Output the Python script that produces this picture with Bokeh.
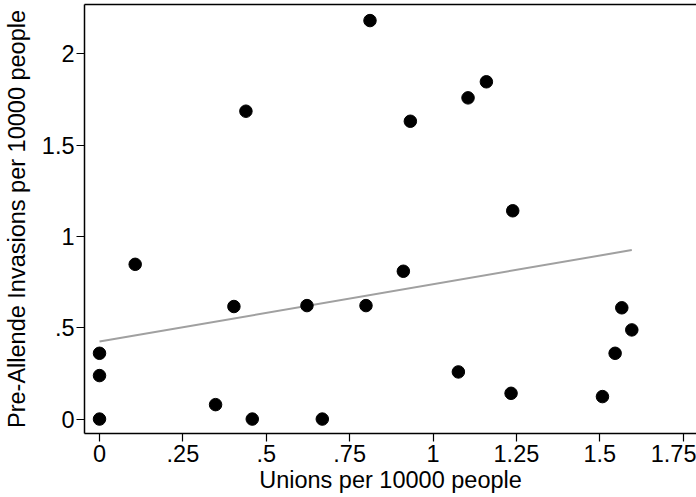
from bokeh.plotting import figure
from bokeh.models import Range1d, FixedTicker, LinearAxis
from bokeh.embed import file_html
from bokeh.resources import INLINE

# Data
unions = [0.0, 0.0, 0.0, 0.107, 0.348, 0.403, 0.439, 0.458, 0.622, 0.668,
          0.799, 0.811, 0.911, 0.932, 1.076, 1.105, 1.160, 1.234, 1.239,
          1.508, 1.546, 1.566, 1.596]
invasions = [0.0, 0.238, 0.360, 0.847, 0.079, 0.616, 1.685, 0.0, 0.621, 0.0,
             0.621, 2.181, 0.809, 1.630, 0.258, 1.758, 1.846, 0.141, 1.140,
             0.123, 0.360, 0.609, 0.488]

# Fitted line end points
fit_x = [0.0, 1.596]
fit_y = [0.424, 0.925]

x_ticks = [0, 0.25, 0.5, 0.75, 1, 1.25, 1.5, 1.75]
x_tick_labels = ["0", ".25", ".5", ".75", "1", "1.25", "1.5", "1.75"]
y_ticks = [0, 0.5, 1, 1.5, 2]
y_tick_labels = ["0", ".5", "1", "1.5", "2"]
x_title = "Unions per 10000 people"
y_title = "Pre-Allende Invasions per 10000 people"

FONT = "Liberation Sans"
FS = "23.5px"

p = figure(width=696, height=497, output_backend="svg", toolbar_location=None,
           x_range=Range1d(-0.045, 1.79), y_range=Range1d(-0.079, 2.269),
           min_border_left=84, min_border_top=4, min_border_right=0,
           min_border_bottom=64)
p.outline_line_color = None
p.grid.visible = False
p.background_fill_color = "white"
p.border_fill_color = "white"

p.line(fit_x, fit_y, line_color="#a0a0a0", line_width=2)
p.scatter(unions, invasions, size=12.5, fill_color="black", line_color="black")

for ax in (p.xaxis[0], p.yaxis[0]):
    ax.axis_line_color = "black"
    ax.axis_line_width = 1.5
    ax.major_tick_line_color = "black"
    ax.major_tick_line_width = 1.2
    ax.major_tick_out = 8
    ax.major_tick_in = 0
    ax.minor_tick_line_color = None
    ax.major_label_text_font = FONT
    ax.major_label_text_font_size = FS
    ax.major_label_text_color = "black"
    ax.axis_label_text_font = FONT
    ax.axis_label_text_font_size = FS
    ax.axis_label_text_font_style = "normal"
    ax.axis_label_text_color = "black"

p.xaxis[0].ticker = FixedTicker(ticks=x_ticks)
p.xaxis[0].major_label_overrides = {t: l for t, l in zip(x_ticks, x_tick_labels)}
p.yaxis[0].ticker = FixedTicker(ticks=y_ticks)
p.yaxis[0].major_label_overrides = {t: l for t, l in zip(y_ticks, y_tick_labels)}
p.xaxis[0].axis_label = x_title
p.yaxis[0].axis_label = y_title
p.xaxis[0].major_label_standoff = 3
p.xaxis[0].axis_label_standoff = 2
p.xaxis[0].axis_label_text_baseline = "bottom"
p.yaxis[0].major_label_standoff = 2
p.yaxis[0].axis_label_standoff = 9

# top frame line
top = LinearAxis(ticker=FixedTicker(ticks=[]), major_label_text_font_size="0px",
                 axis_line_color="black", axis_line_width=1.5,
                 major_tick_line_color=None, minor_tick_line_color=None)
p.add_layout(top, "above")

open("out.html", "w").write(file_html(p, INLINE))
